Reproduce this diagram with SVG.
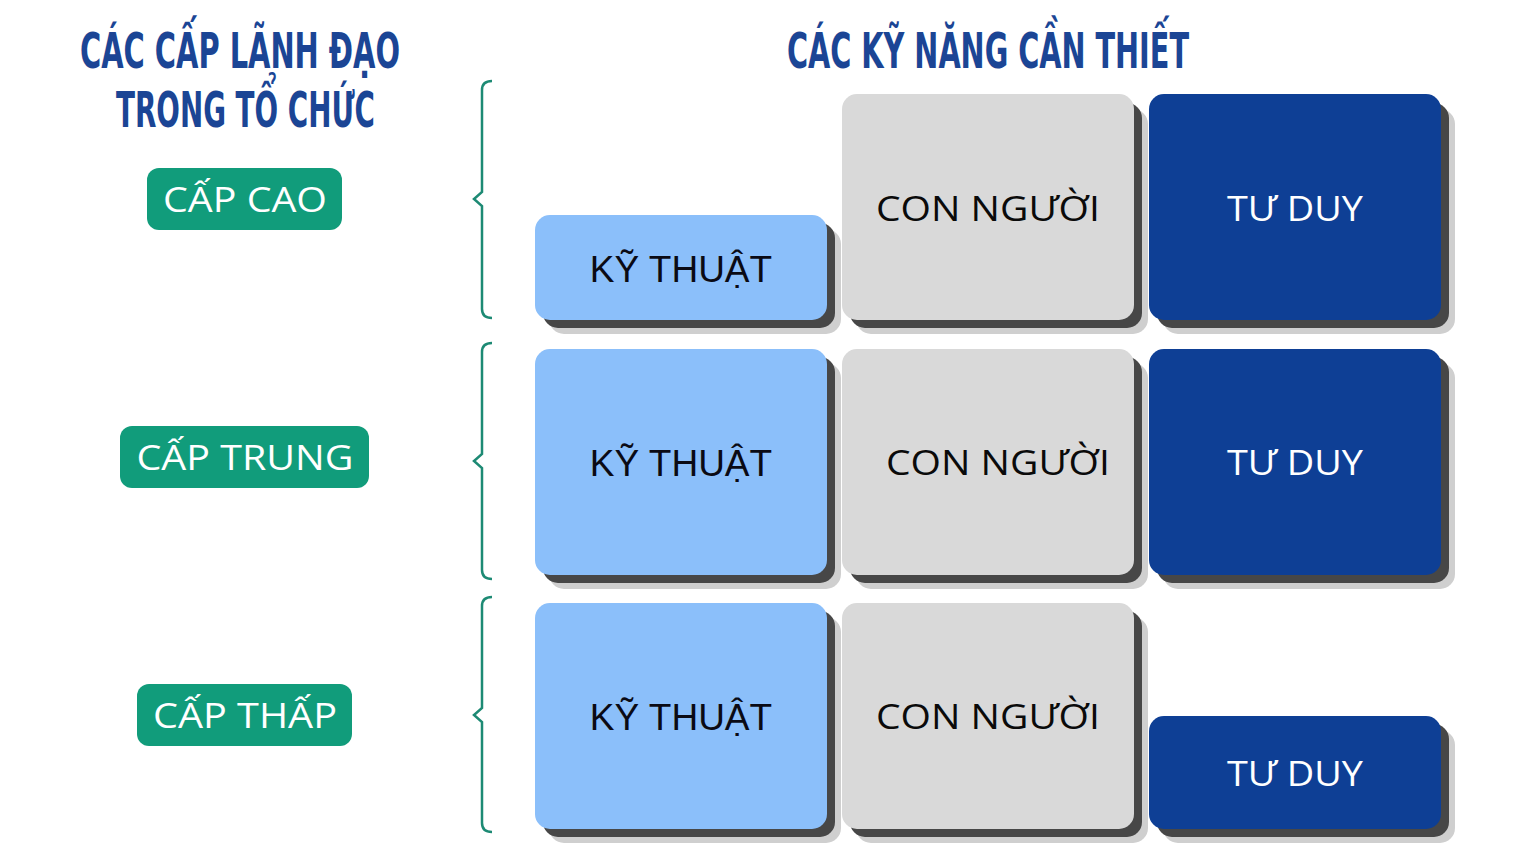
<svg xmlns="http://www.w3.org/2000/svg" width="1536" height="864" viewBox="0 0 1536 864">
<style>
.title{font-family:"DejaVu Sans Condensed","DejaVu Sans",sans-serif;font-weight:bold;font-size:50px;fill:#1b4595}
.pill rect{fill:#119c7b}
.pill text{font-family:"Open Sans","Lato",sans-serif;font-size:34px;fill:#ffffff;text-anchor:middle}
.sh1{fill:#cfcfcf}
.sh2{fill:#474747}
.kt{fill:#8bbffa}
.cn{fill:#d9d9d9}
.td{fill:#0e3f95}
.lbl{font-family:"Open Sans","Lato",sans-serif;font-size:35px;text-anchor:middle}
.lk{font-family:"Liberation Sans",Arial,sans-serif;font-size:37px;fill:#0a0a14;text-anchor:middle}
.brace{fill:none;stroke:#1d8a74;stroke-width:2.5}
</style>
<rect width="1536" height="864" fill="#ffffff"/>
<g id="titles">
<text class="title" x="80" y="68" textLength="320" lengthAdjust="spacingAndGlyphs">CÁC CẤP LÃNH ĐẠO</text>
<text class="title" x="116" y="127" textLength="259" lengthAdjust="spacingAndGlyphs">TRONG TỔ CHỨC</text>
<text class="title" x="787" y="68" textLength="402" lengthAdjust="spacingAndGlyphs">CÁC KỸ NĂNG CẦN THIẾT</text>
</g>
<g id="levels">
<g id="cap-cao" class="pill"><rect x="147" y="168" width="195" height="62" rx="12"/><text x="245" y="212" textLength="164" lengthAdjust="spacingAndGlyphs">CẤP CAO</text></g>
<g id="cap-trung" class="pill"><rect x="120" y="426" width="249" height="62" rx="12"/><text x="245" y="470" textLength="217" lengthAdjust="spacingAndGlyphs">CẤP TRUNG</text></g>
<g id="cap-thap" class="pill"><rect x="137" y="684" width="215" height="62" rx="12"/><text x="245" y="728" textLength="184" lengthAdjust="spacingAndGlyphs">CẤP THẤP</text></g>
</g>
<g id="connectors">
<path class="brace" d="M492,81 Q482,81 482,90 L482,192 L474,199 L482,206 L482,309 Q482,318 492,318"/>
<path class="brace" d="M492,343 Q482,343 482,352 L482,454 L474,461 L482,468 L482,570 Q482,579 492,579"/>
<path class="brace" d="M492,597 Q482,597 482,606 L482,708 L474,715 L482,722 L482,823 Q482,832 492,832"/>
</g>
<g id="r1-ky-thuat"><rect class="sh1" x="549" y="229" width="292" height="105" rx="15"/><rect class="sh2" x="543" y="223" width="292" height="105" rx="15"/><rect class="kt" x="535" y="215" width="292" height="105" rx="15"/><text class="lk" x="681" y="282">KỸ THUẬT</text></g>
<g id="r1-con-nguoi"><rect class="sh1" x="856" y="109" width="292" height="225" rx="15"/><rect class="sh2" x="850" y="103" width="292" height="225" rx="15"/><rect class="cn" x="842" y="94" width="292" height="226" rx="15"/><text class="lbl" x="988" y="221" fill="#0a0a0a" textLength="224" lengthAdjust="spacingAndGlyphs">CON NGƯỜI</text></g>
<g id="r1-tu-duy"><rect class="sh1" x="1163" y="109" width="292" height="225" rx="15"/><rect class="sh2" x="1157" y="103" width="292" height="225" rx="15"/><rect class="td" x="1149" y="94" width="292" height="226" rx="15"/><text class="lbl" x="1295" y="221" fill="#ffffff" textLength="136" lengthAdjust="spacingAndGlyphs">TƯ DUY</text></g>
<g id="r2-ky-thuat"><rect class="sh1" x="549" y="363" width="292" height="226" rx="15"/><rect class="sh2" x="543" y="357" width="292" height="226" rx="15"/><rect class="kt" x="535" y="349" width="292" height="226" rx="15"/><text class="lk" x="681" y="476">KỸ THUẬT</text></g>
<g id="r2-con-nguoi"><rect class="sh1" x="856" y="363" width="292" height="226" rx="15"/><rect class="sh2" x="850" y="357" width="292" height="226" rx="15"/><rect class="cn" x="842" y="349" width="292" height="226" rx="15"/><text class="lbl" x="998" y="475" fill="#0a0a0a" textLength="224" lengthAdjust="spacingAndGlyphs">CON NGƯỜI</text></g>
<g id="r2-tu-duy"><rect class="sh1" x="1163" y="363" width="292" height="226" rx="15"/><rect class="sh2" x="1157" y="357" width="292" height="226" rx="15"/><rect class="td" x="1149" y="349" width="292" height="226" rx="15"/><text class="lbl" x="1295" y="475" fill="#ffffff" textLength="136" lengthAdjust="spacingAndGlyphs">TƯ DUY</text></g>
<g id="r3-ky-thuat"><rect class="sh1" x="549" y="617" width="292" height="226" rx="15"/><rect class="sh2" x="543" y="611" width="292" height="226" rx="15"/><rect class="kt" x="535" y="603" width="292" height="226" rx="15"/><text class="lk" x="681" y="730">KỸ THUẬT</text></g>
<g id="r3-con-nguoi"><rect class="sh1" x="856" y="617" width="292" height="226" rx="15"/><rect class="sh2" x="850" y="611" width="292" height="226" rx="15"/><rect class="cn" x="842" y="603" width="292" height="226" rx="15"/><text class="lbl" x="988" y="729" fill="#0a0a0a" textLength="224" lengthAdjust="spacingAndGlyphs">CON NGƯỜI</text></g>
<g id="r3-tu-duy"><rect class="sh1" x="1163" y="730" width="292" height="113" rx="15"/><rect class="sh2" x="1157" y="724" width="292" height="113" rx="15"/><rect class="td" x="1149" y="716" width="292" height="113" rx="15"/><text class="lbl" x="1295" y="786" fill="#ffffff" textLength="136" lengthAdjust="spacingAndGlyphs">TƯ DUY</text></g>
</svg>
